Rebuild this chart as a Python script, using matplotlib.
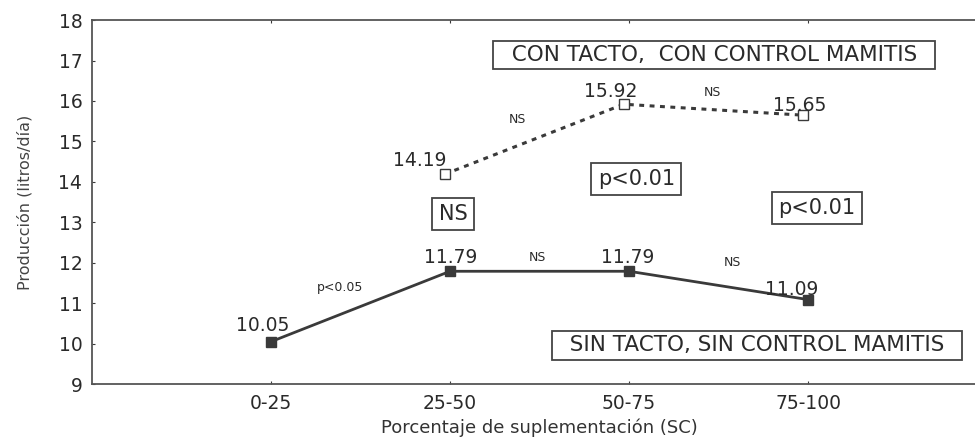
import matplotlib
matplotlib.use('Agg')
import matplotlib.pyplot as plt

plt.rcParams['font.family'] = ['DejaVu Sans']

# categorías del eje x
categorias = ['0-25', '25-50', '50-75', '75-100']
pos = [1, 2, 3, 4]

# sin tacto, sin control mamitis
sin_tacto = [10.05, 11.79, 11.79, 11.09]
# con tacto, con control mamitis (no hay dato en 0-25)
pos_con = [1.97, 2.97, 3.97]
con_tacto = [14.19, 15.92, 15.65]

yticks = list(range(9, 19))

gris = '#3a3a3a'
tc = '#2a2a2a'

fig = plt.figure(figsize=(9.75, 4.37), dpi=100)
ax = fig.add_axes([0.0944, 0.121, 0.918, 0.833])

ax.plot(pos, sin_tacto, color=gris, lw=2.0, marker='s', ms=7,
        mfc=gris, mec=gris, zorder=3)
ax.plot(pos_con, con_tacto, color=gris, lw=2.2, ls=(0, (1.6, 1.8)),
        marker='s', ms=7, mfc='white', mec=gris, mew=1.0, zorder=3)

ax.set_xlim(0, 5)
ax.set_ylim(9, 18)
ax.set_xticks(pos)
ax.set_xticklabels(categorias)
ax.set_yticks(yticks)
ax.tick_params(direction='in', length=2, width=0.8, colors=gris,
               labelsize=13.5, labelcolor=tc, pad=7)
ax.tick_params(axis='x', top=True, pad=7)
for s in ax.spines.values():
    s.set_color('#555555')
    s.set_linewidth(1.3)

ax.set_xlabel('Porcentaje de suplementación (SC)', fontsize=13,
              color='#333333', labelpad=4)
ax.set_ylabel('Producción (litros/día)', fontsize=11.5, color='#444444',
              labelpad=19)

# etiquetas de valores
fs = 13.5
ax.text(0.955, 10.31, '10.05', fontsize=fs, color=tc, ha='center', va='baseline')
ax.text(2.005, 11.99, '11.79', fontsize=fs, color=tc, ha='center', va='baseline')
ax.text(2.99, 11.99, '11.79', fontsize=fs, color=tc, ha='center', va='baseline')
ax.text(3.91, 11.2, '11.09', fontsize=fs, color=tc, ha='center', va='baseline')
ax.text(1.83, 14.39, '14.19', fontsize=fs, color=tc, ha='center', va='baseline')
ax.text(2.9, 16.1, '15.92', fontsize=fs, color=tc, ha='center', va='baseline')
ax.text(3.955, 15.75, '15.65', fontsize=fs, color=tc, ha='center', va='baseline')

# significancias entre puntos
ax.text(1.385, 11.4, 'p<0.05', fontsize=9, color=tc, ha='center', va='center')
ax.text(2.486, 12.12, 'NS', fontsize=9, color=tc, ha='center', va='center')
ax.text(3.58, 12.0, 'NS', fontsize=9, color=tc, ha='center', va='center')
ax.text(2.374, 15.55, 'NS', fontsize=9, color=tc, ha='center', va='center')
ax.text(3.464, 16.22, 'NS', fontsize=9, color=tc, ha='center', va='center')

caja = dict(boxstyle='square,pad=0.2', fc='white', ec='#444444', lw=1.3)
caja_chica = dict(boxstyle='square,pad=0.3', fc='white', ec='#444444', lw=1.3)
ax.text(3.475, 17.14, '  CON TACTO,  CON CONTROL MAMITIS  ', fontsize=15.5,
        color=tc, ha='center', va='center', bbox=caja)
ax.text(3.715, 9.96, '  SIN TACTO, SIN CONTROL MAMITIS  ', fontsize=15.5,
        color=tc, ha='center', va='center', bbox=caja)
ax.text(2.017, 13.2, 'NS', fontsize=15, color=tc, ha='center', va='center',
        bbox=caja_chica)
ax.text(3.04, 14.07, 'p<0.01', fontsize=15, color=tc, ha='center',
        va='center', bbox=caja_chica)
ax.text(4.05, 13.35, 'p<0.01', fontsize=15, color=tc, ha='center',
        va='center', bbox=caja_chica)

plt.savefig('out.png', dpi=100)
